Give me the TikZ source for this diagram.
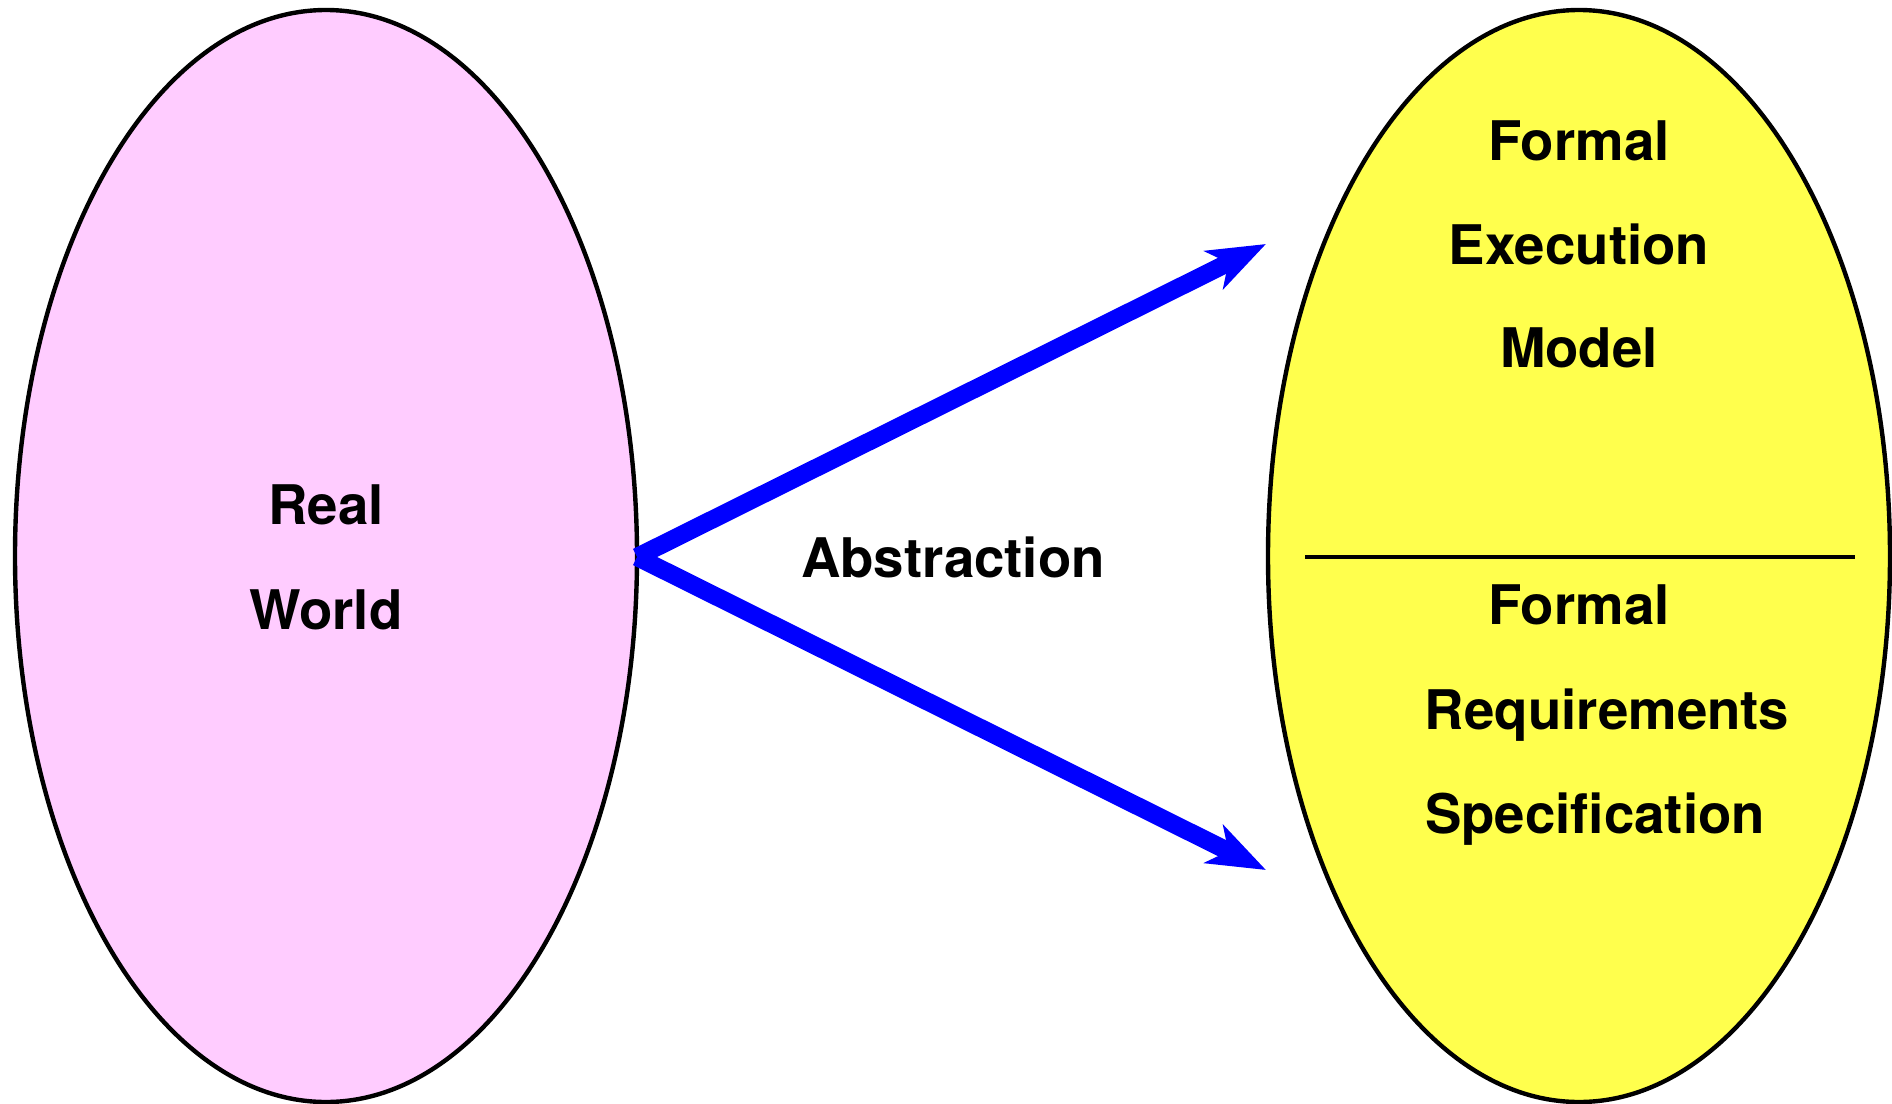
\documentclass[tikz,border=0pt]{standalone}
\usepackage{fontspec}
\setmainfont{TeX Gyre Heros}
\usetikzlibrary{arrows.meta}
\definecolor{pinkfill}{RGB}{255,204,255}
\definecolor{yellowfill}{RGB}{255,255,77}
\begin{document}
\begin{tikzpicture}[x=0.5pt,y=-0.5pt,
  blob/.style={draw=black,line width=2.2pt},
  lbl/.style={font=\fontsize{27.3}{32}\selectfont\bfseries,anchor=base,inner sep=0pt},
  absarrow/.style={draw=blue,line width=9pt,-{Stealth[length=29pt,width=21pt,inset=8pt]}}]
\useasboundingbox (0,0) rectangle (1892,1104);
\draw[blob,fill=pinkfill] (326,556) ellipse [x radius=311,y radius=546];
\draw[blob,fill=yellowfill] (1579,556) ellipse [x radius=311,y radius=546];
\coordinate (src) at (637,557);
\coordinate (tipA) at (1266,244);
\coordinate (tipB) at (1266,870);
\coordinate (divL) at (1305,557);
\coordinate (divR) at (1855,557);
\draw[line width=1.8pt] (divL) -- (divR);
\draw[absarrow] (src) -- (tipA);
\draw[absarrow] (src) -- (tipB);
\node[lbl] (real) at (326,524) {Real};
\node[lbl] (world) at (326,629) {World};
\node[lbl] (abs) at (953,577) {Abstraction};
\node[lbl] (f1) at (1579,160) {Formal};
\node[lbl] (exe) at (1579,264) {Execution};
\node[lbl] (mod) at (1579,367) {Model};
\node[lbl] (f2) at (1579,624) {Formal};
\node[lbl] (req) at (1607,729) {Requirements};
\node[lbl] (spec) at (1595,833) {Specification};
\end{tikzpicture}
\end{document}
